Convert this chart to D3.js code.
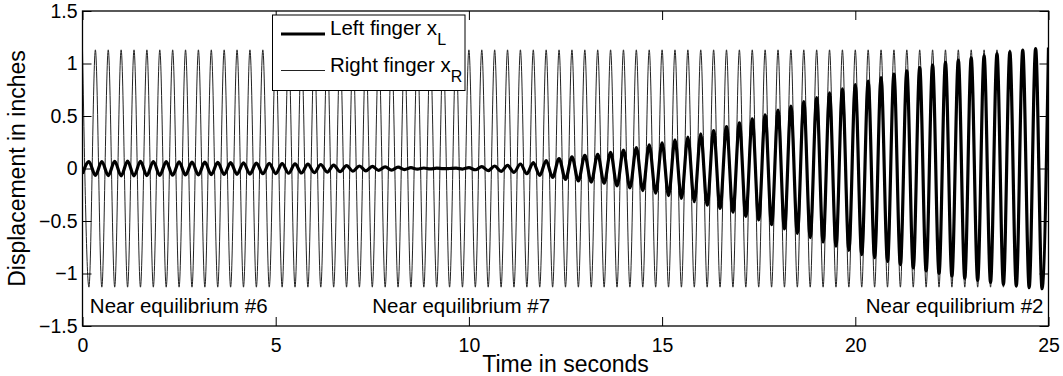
<!DOCTYPE html>
<html><head><meta charset="utf-8">
<script src="https://cdn.jsdelivr.net/npm/d3@7"></script>
<style>
body{margin:0;background:#fff}
svg{display:block}
text{font-family:"Liberation Sans",Arial,Helvetica,sans-serif;fill:#000}
</style>
</head><body>
<svg id="c" width="1063" height="376"></svg>
<script>
// ---- data ----
const xTicks = [0, 5, 10, 15, 20, 25];
const yTicks = [-1.5, -1, -0.5, 0, 0.5, 1, 1.5];
const halfPeriod = 1 / 6; // time between successive extrema (seconds)
// right finger: value at each crest / trough
const rightCrests = [1.13,1.13,1.13,1.13,1.13,1.13,1.13,1.13,1.13,1.13,1.13,1.13,1.13,1.13,1.13,1.13,1.13,1.13,1.13,1.13,
  1.13,1.13,1.13,1.13,1.13,1.13,1.13,1.13,1.13,1.13,1.13,1.13,1.13,1.13,1.13,1.13,1.13,1.13,1.13,1.13,
  1.13,1.13,1.13,1.13,1.13,1.13,1.13,1.13,1.13,1.13,1.13,1.13,1.13,1.13,1.13,1.13,1.13,1.13,1.13,1.13,
  1.13,1.13,1.13,1.13,1.13,1.13,1.13,1.13,1.13,1.13,1.13,1.13,1.13,1.13,1.13,1.13];
const rightTroughs = [-1.13,-1.13,-1.13,-1.13,-1.13,-1.13,-1.13,-1.13,-1.13,-1.13,-1.13,-1.13,-1.13,-1.13,-1.13,
  -1.13,-1.13,-1.13,-1.13,-1.13,-1.13,-1.13,-1.13,-1.13,-1.13,-1.13,-1.13,-1.13,-1.13,-1.13,
  -1.13,-1.13,-1.13,-1.13,-1.13,-1.13,-1.13,-1.13,-1.13,-1.13,-1.13,-1.13,-1.13,-1.13,-1.13,
  -1.13,-1.13,-1.13,-1.13,-1.13,-1.13,-1.13,-1.13,-1.13,-1.13,-1.13,-1.13,-1.13,-1.13,-1.13,
  -1.13,-1.13,-1.13,-1.13,-1.13,-1.13,-1.13,-1.13,-1.13,-1.13,-1.13,-1.13,-1.13,-1.13,-1.13];
// left finger: value at the right finger's crest times and trough times
const leftAtCrest = [-0.05,-0.065,-0.067,-0.07,-0.07,-0.067,-0.065,-0.064,-0.062,-0.06,
  -0.059,-0.057,-0.055,-0.053,-0.05,-0.048,-0.045,-0.043,-0.04,-0.035,
  -0.03,-0.026,-0.022,-0.018,-0.015,-0.01,-0.006,-0.004,-0.002,
  0.003,0.008,0.018,0.024,0.03,0.043,0.057,0.075,0.095,0.11,
  0.125,0.135,0.155,0.175,0.198,0.225,0.245,0.272,0.3,0.33,
  0.362,0.4,0.435,0.472,0.51,0.556,0.595,0.637,0.675,0.72,
  0.758,0.8,0.833,0.865,0.9,0.93,0.96,0.985,1.01,1.033,
  1.054,1.072,1.095,1.11,1.127,1.143,1.152];
const leftAtTrough = [0.065,0.066,0.068,0.07,0.068,0.066,0.065,0.063,0.061,0.06,
  0.058,0.056,0.054,0.052,0.049,0.047,0.044,0.042,0.038,0.032,
  0.028,0.024,0.02,0.016,0.013,0.008,0.005,0.003,0.0,
  -0.005,-0.012,-0.02,-0.027,-0.036,-0.05,-0.066,-0.085,-0.103,-0.117,
  -0.13,-0.14,-0.165,-0.185,-0.21,-0.235,-0.258,-0.285,-0.315,-0.35,
  -0.38,-0.415,-0.455,-0.49,-0.535,-0.575,-0.617,-0.658,-0.7,-0.74,
  -0.78,-0.82,-0.85,-0.885,-0.915,-0.947,-0.975,-1.0,-1.025,-1.045,
  -1.065,-1.085,-1.105,-1.12,-1.135,-1.145];
const seriesNames = ["Left finger x", "Right finger x"];
const seriesSubs = ["L", "R"];
const noteLabels = ["Near equilibrium #6", "Near equilibrium #7", "Near equilibrium #2"];
const xLabel = "Time in seconds";
const yLabel = "Displacement in inches";

// ---- build series ----
function interleave(crests, troughs) {
  const out = [];
  crests.forEach((v, j) => {
    out.push({ t: 2 * j * halfPeriod, v: v });
    if (j < troughs.length) out.push({ t: (2 * j + 1) * halfPeriod, v: troughs[j] });
  });
  return out;
}
const rightSeries = interleave(rightCrests, rightTroughs);
const leftSeries = interleave(leftAtCrest, leftAtTrough);

// ---- layout ----
const svg = d3.select("#c");
const L = 82.5, R = 1048.5, T = 11, B = 326;
const x = d3.scaleLinear().domain([0, 25]).range([L, R]);
const y = d3.scaleLinear().domain([-1.5, 1.5]).range([B, T]);

svg.append("clipPath").attr("id", "clip").append("rect")
  .attr("x", L).attr("y", T).attr("width", R - L).attr("height", B - T);

const line = d3.line().x(d => x(d.t)).y(d => y(d.v)).curve(d3.curveMonotoneX);
const plot = svg.append("g").attr("clip-path", "url(#clip)");
plot.append("path").datum(rightSeries).attr("d", line)
  .attr("fill", "none").attr("stroke", "#222").attr("stroke-width", 1);
plot.append("path").datum(leftSeries).attr("d", line)
  .attr("fill", "none").attr("stroke", "#000").attr("stroke-width", 3.2).attr("stroke-linejoin", "round");

// axes
const tickLen = 9;
function styleAxis(g) {
  g.select(".domain").remove();
  g.selectAll(".tick line").attr("stroke", "#000").attr("stroke-width", 1);
  g.selectAll("text").attr("font-family", null).style("font-size", "19.5px").attr("fill", "#000");
}
svg.append("g").attr("transform", `translate(0,${B})`)
  .call(d3.axisBottom(x).tickValues(xTicks).tickSize(-tickLen).tickPadding(12).tickFormat(d3.format("d")))
  .call(styleAxis);
svg.append("g").attr("transform", `translate(0,${T})`)
  .call(d3.axisTop(x).tickValues(xTicks).tickSize(-tickLen).tickFormat(""))
  .call(styleAxis);
svg.append("g").attr("transform", `translate(${L},0)`)
  .call(d3.axisLeft(y).tickValues(yTicks).tickSize(-tickLen).tickPadding(5).tickFormat(d3.format("")))
  .call(styleAxis);
svg.append("g").attr("transform", `translate(${R},0)`)
  .call(d3.axisRight(y).tickValues(yTicks).tickSize(-tickLen).tickFormat(""))
  .call(styleAxis);

svg.append("rect").attr("x", L).attr("y", T).attr("width", R - L).attr("height", B - T)
  .attr("fill", "none").attr("stroke", "#000").attr("stroke-width", 1.3);

// annotations
const noteY = y(-1.376);
svg.append("text").attr("x", x(0.19)).attr("y", noteY).style("font-size", "20.5px").text(noteLabels[0]);
svg.append("text").attr("x", x(7.5)).attr("y", noteY).style("font-size", "20.5px").text(noteLabels[1]);
svg.append("text").attr("x", x(24.87)).attr("y", noteY).attr("text-anchor", "end").style("font-size", "20.5px").text(noteLabels[2]);

// axis labels
svg.append("text").attr("x", (L + R) / 2).attr("y", 372).attr("text-anchor", "middle")
  .style("font-size", "23px").text(xLabel);
svg.append("text").attr("transform", `translate(25,${y(0)}) rotate(-90)`).attr("text-anchor", "middle")
  .style("font-size", "23px").text(yLabel);

// legend
const lg = svg.append("g");
lg.append("rect").attr("x", 272.5).attr("y", 15).attr("width", 192.5).attr("height", 75.5)
  .attr("fill", "#fff").attr("stroke", "#000").attr("stroke-width", 1);
const rowsY = [34, 70.5];
const widths = [3.2, 1];
seriesNames.forEach((name, i) => {
  lg.append("line").attr("x1", 281).attr("x2", 325).attr("y1", rowsY[i]).attr("y2", rowsY[i])
    .attr("stroke", i === 0 ? "#000" : "#222").attr("stroke-width", widths[i]);
  const t = lg.append("text").attr("x", 330).attr("y", rowsY[i] + 1).style("font-size", "20.5px");
  t.append("tspan").text(name);
  t.append("tspan").attr("dy", 10).style("font-size", "16px").text(seriesSubs[i]);
});
</script>
</body></html>
